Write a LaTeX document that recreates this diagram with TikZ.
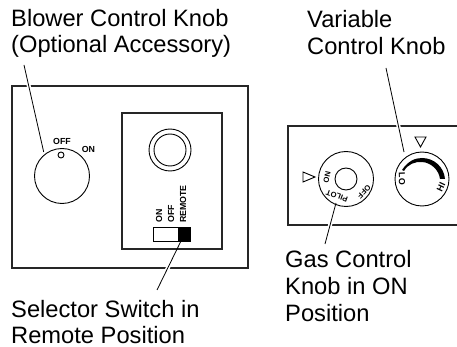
\documentclass[tikz,border=0pt]{standalone}
\usepackage{fontspec}
\setmainfont{Liberation Sans}
\usetikzlibrary{calc}
\tikzset{
 lab/.style={anchor=base west,inner sep=0pt,font=\fontsize{23.7}{26}\selectfont},
 tiny/.style={inner sep=0pt,font=\fontsize{7.6}{8}\selectfont\bfseries},
 knobtext/.style={inner sep=0pt,font=\fontsize{8.8}{10}\selectfont\bfseries},
 small/.style={inner sep=0pt,font=\fontsize{8.8}{10}\selectfont\bfseries},
 panel/.style={draw=black!85,line width=1.2pt},
 thin/.style={draw=black,line width=0.9pt},
 leader/.style={draw=black,line width=0.8pt},
 halo/.style={draw=white,line width=4pt}
}
\begin{document}
\begin{tikzpicture}[x=1pt,y=-1pt]
\useasboundingbox (0,0) rectangle (457,347);
% labels
\node[lab] (t1) at (11,27) {Blower Control Knob};
\node[lab] (t2) at (11,53) {(Optional Accessory)};
\node[lab] (t3) at (307,28) {Variable};
\node[lab] (t4) at (307,55) {Control Knob};
\node[lab] (t5) at (285,267) {Gas Control};
\node[lab] (t6) at (285,294) {Knob in ON};
\node[lab] (t7) at (285,321) {Position};
\node[lab] (t8) at (11,317) {Selector Switch in};
\node[lab] (t9) at (11,343) {Remote Position};
% left panel
\draw[panel] (12,86) rectangle (248,268);
\draw[panel] (122,113) rectangle (222,249);
% leader halos
\coordinate (l1a) at (24,65);
\coordinate (l1b) at (43.7,152);
\coordinate (l2a) at (157,290);
\coordinate (l2b) at (181,241);
\coordinate (l3a) at (386,68);
\coordinate (l3b) at (404,152);
\coordinate (l4a) at (336,203);
\coordinate (l4b) at (325,244);
\draw[panel] (457,126) -- (288,126) -- (288,225) -- (457,225);
\draw[halo] ($(l1a)!0.2!(l1b)$) -- ($(l1a)!0.3!(l1b)$);
\draw[halo] ($(l2a)!0.35!(l2b)$) -- ($(l2a)!0.55!(l2b)$);
\draw[halo] ($(l3a)!0.62!(l3b)$) -- ($(l3a)!0.72!(l3b)$);
\draw[halo] ($(l4a)!0.45!(l4b)$) -- ($(l4a)!0.6!(l4b)$);
\node[thin,circle,minimum size=42pt,inner sep=0pt] (ring) at (170,150) {};
\node[thin,circle,minimum size=32pt,inner sep=0pt] (ringin) at (170,150) {};
\node[thin,circle,minimum size=55pt,inner sep=0pt] (blower) at (62,176) {};
\node[thin,circle,minimum size=6pt,inner sep=0pt] (dot) at (61,155) {};
\node[small] (off) at (62,141) {OFF};
\node[small] (on) at (88.5,149) {ON};
\node[small,rotate=90,anchor=west] (sa) at (159,223) {ON};
\node[small,rotate=90,anchor=west] (sb) at (171,223) {OFF};
\node[small,rotate=90,anchor=west] (sc) at (183,223) {REMOTE};
\node[thin,minimum width=37pt,minimum height=14pt,inner sep=0pt] (sw) at (171.5,234) {};
\node[fill=black,draw=black,minimum width=11.5pt,minimum height=14pt,inner sep=0pt] (swb) at (184,234) {};
% right panel
\node[thin,circle,minimum size=55pt,inner sep=0pt] (gas) at (346,179) {};
\node[thin,circle,minimum size=22pt,inner sep=0pt] (gasin) at (346,179) {};
\node[thin,circle,minimum size=54pt,inner sep=0pt] (var) at (422,179) {};
\draw[thin] (303,172) -- (315,177) -- (303,182) -- cycle;
\draw[thin] (415,137) -- (426,137) -- (420.5,147) -- cycle;
\fill (402,170) .. controls (408,161) and (415,158) .. (422,158) .. controls (434,158) and (444,167) .. (445,179)
 -- (440,179) .. controls (439,170) and (431,162.5) .. (422,162) .. controls (415,161.5) and (408,164) .. (404,171) -- cycle;
\node[tiny,rotate=78] (g1) at (327,177) {ON};
\node[tiny,rotate=160] (g2) at (337,196) {PILOT};
\node[tiny,rotate=225] (g3) at (364,192) {OFF};
\node[knobtext,rotate=-88] (v1) at (402,179) {LO};
\node[knobtext,rotate=65] (v2) at (441,187) {HI};
% leaders
\draw[leader] (l1a) -- (l1b);
\draw[leader] (l2b) -- (l2a);
\draw[leader] (l3a) -- (l3b);
\draw[leader] (l4a) -- (l4b);
\end{tikzpicture}
\end{document}
